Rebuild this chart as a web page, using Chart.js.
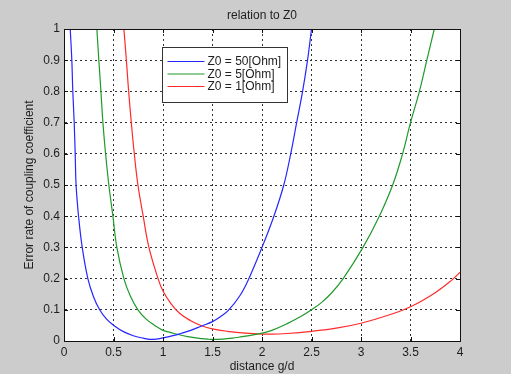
<!DOCTYPE html>
<html>
<head>
<meta charset="utf-8">
<script src="https://cdn.jsdelivr.net/npm/chart.js@4/dist/chart.umd.min.js"></script>
<style>
  html, body { margin: 0; padding: 0; background: #cccccc; }
  #wrap { width: 511px; height: 374px; }
  canvas { display: block; }
</style>
</head>
<body>
<div id="wrap"><canvas id="c" width="511" height="374"></canvas></div>
<script>
// ---- data ----
const seriesLabels = ['Z0 = 50[Ohm]', 'Z0 = 5[Ohm]', 'Z0 = 1[Ohm]'];

const blueX = [0.063,0.079,0.089,0.103,0.113,0.122,0.147,0.184,0.241,0.3,0.36,0.43,0.51,0.6,0.7,0.8,0.87,0.95,1.0,1.1,1.17,1.28,1.39,1.5,1.58,1.66,1.776,1.86,2.0,2.12,2.22,2.29,2.35,2.41,2.46,2.5];
const blueY = [1.0,0.9,0.8,0.7,0.6,0.5,0.4,0.3,0.2,0.14,0.1,0.07,0.048,0.03,0.017,0.009,0.005,0.007,0.01,0.017,0.023,0.034,0.048,0.062,0.078,0.098,0.145,0.195,0.3,0.4,0.5,0.6,0.7,0.8,0.9,1.0];

const greenX = [0.332,0.352,0.373,0.393,0.42,0.453,0.494,0.534,0.605,0.67,0.747,0.83,0.916,1.0,1.08,1.15,1.25,1.35,1.45,1.5,1.6,1.7,1.8,1.9,2.0,2.1,2.25,2.4,2.5,2.6,2.7,2.82,3.02,3.185,3.32,3.42,3.5,3.59,3.665,3.74];
const greenY = [1.0,0.9,0.8,0.7,0.6,0.5,0.4,0.3,0.2,0.144,0.1,0.07,0.05,0.034,0.027,0.021,0.014,0.009,0.006,0.005,0.006,0.009,0.014,0.019,0.025,0.034,0.055,0.08,0.1,0.123,0.153,0.2,0.3,0.4,0.5,0.6,0.7,0.8,0.9,1.0];

const redX = [0.605,0.63,0.653,0.68,0.71,0.747,0.8,0.858,0.95,1.0,1.08,1.17,1.28,1.39,1.5,1.65,1.8,1.95,2.1,2.25,2.5,2.75,3.0,3.25,3.5,3.75,3.92,4.0];
const redY = [1.0,0.9,0.8,0.7,0.6,0.5,0.4,0.3,0.2,0.16,0.12,0.088,0.065,0.049,0.039,0.031,0.026,0.023,0.022,0.024,0.031,0.041,0.057,0.08,0.11,0.155,0.196,0.22];

const xTicks = [0,0.5,1,1.5,2,2.5,3,3.5,4];
const yTicks = [0,0.1,0.2,0.3,0.4,0.5,0.6,0.7,0.8,0.9,1];

const seriesColors = ['#2626ff', '#1f9a2a', '#ff2a2a'];

function pts(xs, ys) { return xs.map((x, i) => ({ x: x, y: ys[i] })); }

const FONT = 'Liberation Sans, Arial, Helvetica, sans-serif';
const TXT = '#1e1e1e';

// ---- plugins ----
const plotBg = {
  id: 'plotBg',
  beforeDraw(chart) {
    const { ctx, chartArea: a } = chart;
    ctx.save();
    ctx.fillStyle = '#ffffff';
    ctx.fillRect(a.left, a.top, a.right - a.left, a.bottom - a.top);
    ctx.restore();
  }
};

const boxAndTicks = {
  id: 'boxAndTicks',
  afterDatasetsDraw(chart) {
    const { ctx, chartArea: a, scales } = chart;
    ctx.save();
    ctx.strokeStyle = '#111';
    ctx.lineWidth = 1;
    ctx.setLineDash([]);
    const L = 4;
    ctx.beginPath();
    xTicks.forEach(v => {
      const px = Math.round(scales.x.getPixelForValue(v)) + 0.5;
      ctx.moveTo(px, a.bottom); ctx.lineTo(px, a.bottom - L);
      ctx.moveTo(px, a.top); ctx.lineTo(px, a.top + L);
    });
    yTicks.forEach(v => {
      const py = Math.round(scales.y.getPixelForValue(v)) + 0.5;
      ctx.moveTo(a.left, py); ctx.lineTo(a.left + L, py);
      ctx.moveTo(a.right, py); ctx.lineTo(a.right - L, py);
    });
    ctx.stroke();
    ctx.strokeRect(Math.round(a.left) + 0.5, Math.round(a.top) + 0.5,
                   Math.round(a.right - a.left), Math.round(a.bottom - a.top));
    ctx.restore();
  }
};

const boxLegend = {
  id: 'boxLegend',
  afterDraw(chart) {
    const { ctx, chartArea: a } = chart;
    const bx = Math.round(a.left + 98) + 0.5, by = Math.round(a.top + 18) + 0.5;
    const bw = 125, bh = 55;
    ctx.save();
    ctx.fillStyle = '#ffffff';
    ctx.fillRect(bx, by, bw, bh);
    ctx.strokeStyle = '#333';
    ctx.lineWidth = 1;
    ctx.strokeRect(bx, by, bw, bh);
    ctx.font = '12px ' + FONT;
    ctx.textBaseline = 'middle';
    ctx.textAlign = 'left';
    chart.data.datasets.forEach((ds, i) => {
      const yy = by + 14 + i * 12.5;
      ctx.strokeStyle = ds.borderColor;
      ctx.lineWidth = 1.2;
      ctx.beginPath();
      ctx.moveTo(bx + 5, yy); ctx.lineTo(bx + 42, yy);
      ctx.stroke();
      ctx.fillStyle = TXT;
      ctx.fillText(ds.label, bx + 45, yy + 0.5);
    });
    ctx.restore();
  }
};

new Chart(document.getElementById('c'), {
  type: 'line',
  data: {
    datasets: [
      { label: seriesLabels[0], data: pts(blueX, blueY), borderColor: seriesColors[0] },
      { label: seriesLabels[1], data: pts(greenX, greenY), borderColor: seriesColors[1] },
      { label: seriesLabels[2], data: pts(redX, redY), borderColor: seriesColors[2] }
    ]
  },
  options: {
    responsive: false,
    animation: false,
    devicePixelRatio: 1,
    layout: { padding: { left: 0, right: 51, top: 0, bottom: 0 } },
    elements: {
      point: { radius: 0 },
      line: { borderWidth: 1.2, tension: 0.4, fill: false }
    },
    plugins: {
      legend: { display: false },
      tooltip: { enabled: false },
      title: {
        display: true,
        text: 'relation to Z0',
        fullSize: false,
        color: TXT,
        font: { family: FONT, size: 12, weight: 'normal' },
        padding: { top: 8, bottom: 6.6 }
      }
    },
    scales: {
      x: {
        type: 'linear',
        min: 0, max: 4,
        afterBuildTicks(scale) { scale.ticks = xTicks.map(v => ({ value: v })); },
        afterFit(scale) { scale.height = 33; },
        ticks: {
          color: TXT,
          padding: 4,
          maxRotation: 0,
          font: { family: FONT, size: 12 },
          callback: v => String(+v.toFixed(1))
        },
        grid: { color: '#333', lineWidth: 1, drawTicks: false },
        border: { display: true, color: '#111', dash: [2, 3] },
        title: {
          display: true, text: 'distance g/d', color: TXT,
          font: { family: FONT, size: 12 },
          padding: { top: 0, bottom: 0 }
        }
      },
      y: {
        type: 'linear',
        min: 0, max: 1,
        afterBuildTicks(scale) { scale.ticks = yTicks.map(v => ({ value: v })); },
        afterFit(scale) { scale.width = 64; },
        ticks: {
          color: TXT,
          padding: 4,
          font: { family: FONT, size: 12 },
          callback: v => String(+v.toFixed(1))
        },
        grid: { color: '#333', lineWidth: 1, drawTicks: false },
        border: { display: true, color: '#111', dash: [2, 3] },
        title: {
          display: true, text: 'Error rate of coupling coefficient', color: TXT,
          font: { family: FONT, size: 12 },
          padding: { top: 22, bottom: 0 }
        }
      }
    }
  },
  plugins: [plotBg, boxAndTicks, boxLegend]
});
</script>
</body>
</html>
